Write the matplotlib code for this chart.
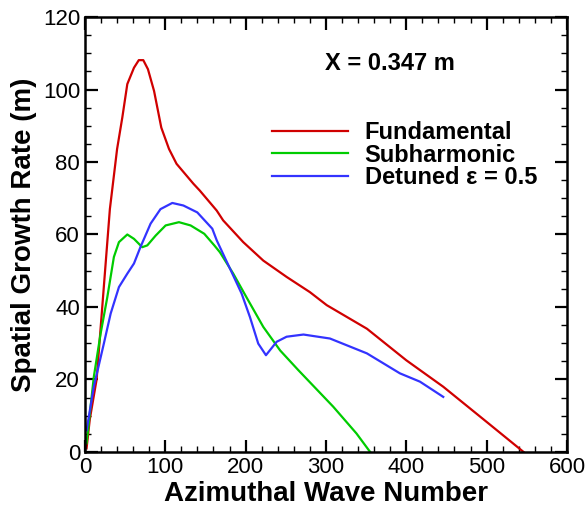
import numpy as np
import matplotlib
matplotlib.use("Agg")
import matplotlib.pyplot as plt
from matplotlib.ticker import MultipleLocator

plt.rcParams['font.family'] = ['Liberation Sans', 'DejaVu Sans']

# values
fund_x = [2, 6, 14.5, 31, 40, 46.5, 52.7, 61, 67, 72.6, 78.4, 86, 95, 104.6, 114, 135,
          143, 164, 172, 197, 222, 251, 280, 301, 351, 400, 446, 500, 546]
fund_y = [1, 9, 20, 67, 83.6, 92.3, 101.5, 106, 108.1, 108.1, 105.6, 99.6, 89.5, 83.6,
          79.5, 74, 72.1, 66.6, 63.9, 57.9, 52.8, 48.3, 44.1, 40.5, 34, 25.3, 18, 8.3, 0]

sub_x = [2, 11, 19.5, 27.8, 36, 42.3, 52.7, 61, 71.3, 77.6, 88, 100.4, 117, 131.5, 148.5,
         161, 168, 184.6, 201, 222, 243, 265.5, 309, 338, 355]
sub_y = [2.4, 20.7, 32.7, 42.7, 53.8, 57.9, 60, 58.8, 56.5, 57, 59.7, 62.5, 63.4, 62.5,
         60.2, 57, 55.1, 49.2, 42.7, 34.5, 28, 22.6, 12.5, 5.1, 0]

det_x = [2, 11, 23.6, 32, 42.3, 52.7, 61, 69, 81.7, 94, 108.7, 122.5, 139.8, 158.5, 164,
         180.5, 195, 205.4, 215.7, 225.3, 238.6, 251, 272, 305, 351, 392, 417, 446]
det_y = [6, 18, 30, 38.2, 45.5, 49.2, 52, 56.5, 63, 67, 68.7, 68, 66.1, 61.6, 58.4,
         50.6, 43.7, 37.2, 29.9, 26.7, 30.4, 31.8, 32.4, 31.3, 27.2, 21.7, 19.4, 15.2]

labels = ['Fundamental', 'Subharmonic', 'Detuned \u03b5 = 0.5']
colors = ['#d00000', '#00cc00', '#3333ff']

fig = plt.figure(figsize=(5.86, 5.11), dpi=100)
ax = fig.add_axes([0.145, 0.1155, 0.8225, 0.8512])

for xs, ys, lab, c in zip([fund_x, sub_x, det_x], [fund_y, sub_y, det_y], labels, colors):
    ax.plot(xs, ys, color=c, lw=1.6, label=lab, solid_joinstyle='round')

ax.set_xlim(0, 600)
ax.set_ylim(0, 120)
ax.xaxis.set_major_locator(MultipleLocator(100))
ax.xaxis.set_minor_locator(MultipleLocator(20))
ax.yaxis.set_major_locator(MultipleLocator(20))
ax.yaxis.set_minor_locator(MultipleLocator(5))
ax.tick_params(which='both', direction='in', top=True, right=True, labelsize=16)
ax.tick_params(which='major', length=9, width=1.6)
ax.tick_params(which='minor', length=4.5, width=1)
for s in ax.spines.values():
    s.set_linewidth(1.8)

ax.set_xlabel('Azimuthal Wave Number', fontsize=20, fontweight='bold', labelpad=2)
ax.set_ylabel('Spatial Growth Rate (m)', fontsize=20, fontweight='bold', labelpad=4)

ax.text(0.633, 0.893, 'X = 0.347 m', transform=ax.transAxes, fontsize=17,
        fontweight='bold', ha='center', va='center')

leg = ax.legend(loc='upper left', bbox_to_anchor=(0.388, 0.76), frameon=False,
                borderaxespad=0, borderpad=0, handlelength=3.2, handletextpad=0.72,
                labelspacing=-0.03, prop={'size': 17, 'weight': 'bold'})

fig.savefig('out.png', dpi=100)
